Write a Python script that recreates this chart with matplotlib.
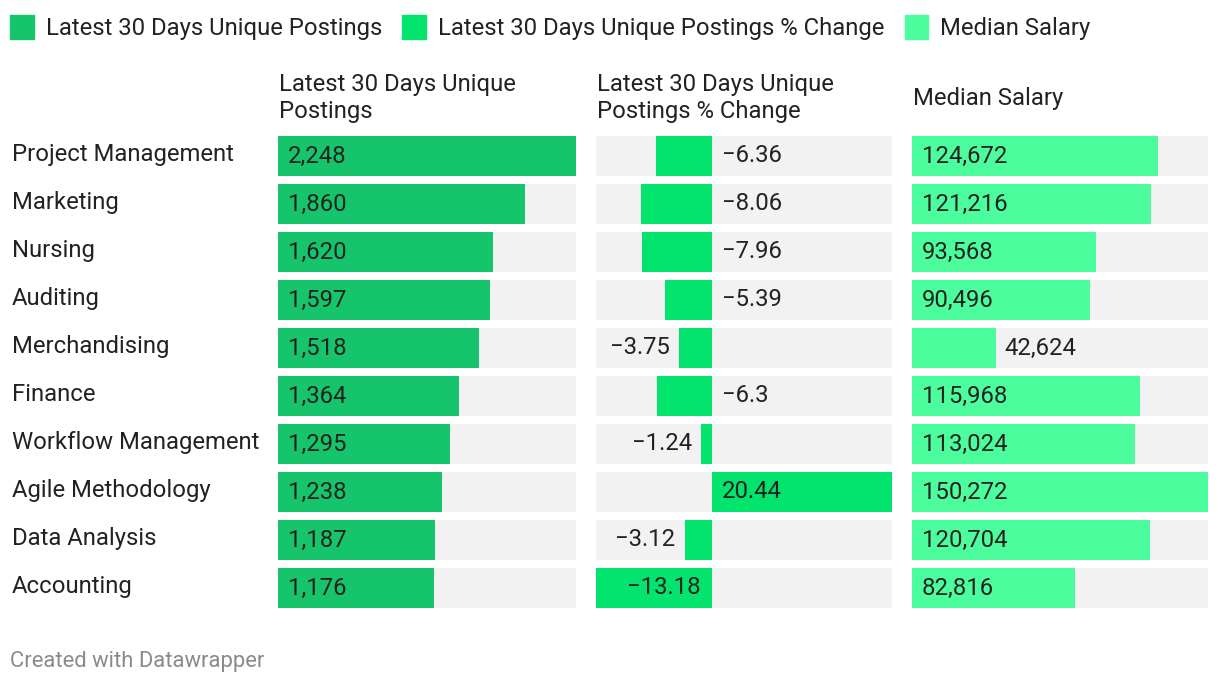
import matplotlib.pyplot as plt
from matplotlib.patches import Patch
from matplotlib.transforms import blended_transform_factory

plt.rcParams['font.family'] = ['Roboto', 'DejaVu Sans']

# data
skills = ["Project Management", "Marketing", "Nursing", "Auditing", "Merchandising",
          "Finance", "Workflow Management", "Agile Methodology", "Data Analysis", "Accounting"]
postings = [2248, 1860, 1620, 1597, 1518, 1364, 1295, 1238, 1187, 1176]
pct_change = [-6.36, -8.06, -7.96, -5.39, -3.75, -6.3, -1.24, 20.44, -3.12, -13.18]
salary = [124672, 121216, 93568, 90496, 42624, 115968, 113024, 150272, 120704, 82816]

col_titles = ["Latest 30 Days Unique\nPostings", "Latest 30 Days Unique\nPostings % Change", "Median Salary"]
legend_labels = ["Latest 30 Days Unique Postings", "Latest 30 Days Unique Postings % Change", "Median Salary"]
colors = ["#15c46b", "#02e46e", "#4cfd9e"]
bg = "#f2f2f2"
txt = "#222222"

W, H = 1220, 684
fig = plt.figure(figsize=(W / 100, H / 100), dpi=100)

top, bottom = 136, 608
cols = [(278, 298), (596, 296), (912, 296)]
bh = 40 / 48
n = len(skills)
axes = []
for left, width in cols:
    ax = fig.add_axes([left / W, 1 - bottom / H, width / W, (bottom - top) / H])
    ax.set_ylim(n - 1 + bh / 2, -bh / 2)
    ax.axis("off")
    axes.append(ax)

y = list(range(n))
fs = 17.2

def label(ax, s, xy, dx, ha):
    ax.annotate(s, xy, xytext=(dx, 0), textcoords="offset pixels",
                va="center", ha=ha, fontsize=fs, color=txt)

# column 1
ax = axes[0]
ax.set_xlim(0, max(postings))
ax.barh(y, [max(postings)] * n, height=bh, color=bg)
ax.barh(y, postings, height=bh, color=colors[0])
for i, v in enumerate(postings):
    label(ax, f"{v:,}", (0, i), 10, "left")

# column 2
ax = axes[1]
lo, hi = min(pct_change), max(pct_change)
ax.set_xlim(lo, hi)
ax.barh(y, [hi - lo] * n, left=lo, height=bh, color=bg)
ax.barh(y, pct_change, height=bh, color=colors[1])
for i, v in enumerate(pct_change):
    s = f"{v:g}".replace("-", "\u2212")
    if v > 0:
        label(ax, s, (0, i), 10, "left")
    elif abs(v) > 12:
        label(ax, s, (0, i), -11, "right")
    elif abs(v) < 4:
        label(ax, s, (v, i), -9, "right")
    else:
        label(ax, s, (0, i), 10, "left")

# column 3
ax = axes[2]
ax.set_xlim(0, max(salary))
ax.barh(y, [max(salary)] * n, height=bh, color=bg)
ax.barh(y, salary, height=bh, color=colors[2])
for i, v in enumerate(salary):
    if v < 0.4 * max(salary):
        label(ax, f"{v:,}", (v, i), 8, "left")
    else:
        label(ax, f"{v:,}", (0, i), 10, "left")

# row labels
tr = blended_transform_factory(fig.transFigure, axes[0].transData)
for i, name in enumerate(skills):
    axes[0].text(12 / W, i - 0.04, name, transform=tr, va="center", ha="left", fontsize=fs, color=txt)

# column headers
for (left, width), title in zip(cols, col_titles):
    fig.text((left + 1) / W, 1 - 98 / H, title, va="center", ha="left", fontsize=fs, color=txt, linespacing=1.2)

# legend
handles = [Patch(color=c) for c in colors]
fig.legend(handles, legend_labels, loc="upper left", bbox_to_anchor=(10 / W, 1 - 15 / H), ncol=3,
           frameon=False, fontsize=fs, handlelength=1.0, handleheight=1.17, handletextpad=0.5,
           columnspacing=0.84, borderpad=0, borderaxespad=0, labelcolor=txt)

fig.text(10 / W, 1 - 661 / H, "Created with Datawrapper", va="center", ha="left", fontsize=15.8, color="#8a8a8a")

fig.savefig("out.png", dpi=100)
